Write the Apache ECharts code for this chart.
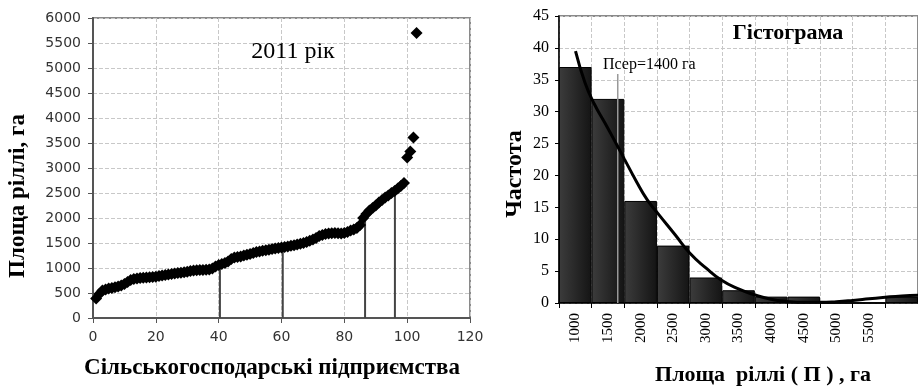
<!DOCTYPE html>
<html>
<head>
<meta charset="utf-8">
<script src="https://cdn.jsdelivr.net/npm/echarts@6/dist/echarts.min.js"></script>
<style>
  html, body { margin: 0; padding: 0; background: #fff; overflow: hidden; }
  #main { width: 918px; height: 387px; }
</style>
</head>
<body>
<div id="main"></div>
<script>
// ліва діаграма: площа ріллі підприємств (рангова)
const areaValues = [
  390, 480, 550, 570, 590, 600, 615, 630, 650, 680,
  720, 760, 780, 790, 800, 805, 810, 815, 820, 825,
  840, 850, 860, 870, 880, 890, 900, 905, 915, 925,
  940, 950, 955, 960, 960, 965, 970, 990, 1030, 1060,
  1080, 1100, 1130, 1180, 1210, 1220, 1230, 1250, 1265, 1280,
  1300, 1320, 1330, 1345, 1355, 1365, 1380, 1390, 1400, 1410,
  1420, 1430, 1445, 1455, 1470, 1485, 1500, 1520, 1545, 1570,
  1600, 1640, 1660, 1680, 1690, 1695, 1700, 1695, 1690, 1700,
  1720, 1750, 1770, 1800, 1860, 2000, 2080, 2150, 2200, 2250,
  2310, 2360, 2410, 2450, 2500, 2540, 2590, 2640, 2700, 3210,
  3330, 3610, 5700
]
// вертикальні лінії (квартилі)
const splitX = [40.4, 60.4, 86.6, 96.1]
const splitTop = [1060, 1410, 2030, 2540]

// права діаграма: гістограма
const binLabels = ["1000", "1500", "2000", "2500", "3000", "3500", "4000", "4500", "5000", "5500", "6000"]
const binCounts = [37, 32, 16, 9, 4, 2, 1, 1, 0, 0, 1]
const curveX = [753, 900, 1041, 1200, 1344, 1500, 1673, 1850, 2011, 2279, 2506, 2750, 2985, 3250, 3491, 3750, 3995, 4250, 4500, 4750, 5000, 5250, 5500, 5750, 6000]
const curveY = [39.5, 34.5, 31.2, 28.3, 25.6, 22.6, 19.3, 16.2, 14.1, 10.7, 7.8, 5.5, 3.6, 2.2, 1.3, 0.6, 0.25, 0.1, 0.1, 0.2, 0.4, 0.65, 0.9, 1.1, 1.2]
const meanValue = 1400
const meanTop = 35.9

const chart = echarts.init(document.getElementById("main"))

const grid = { type: "dashed", color: "#c8c8c8", width: 1 }
const serif = "Liberation Serif"

const splitSeries = splitX.map((x, i) => ({
  type: "line",
  xAxisIndex: 0,
  yAxisIndex: 0,
  symbol: "none",
  z: 1,
  lineStyle: { color: "#444", width: 2 },
  data: [[x, 0], [x, splitTop[i]]]
}))

const option = {
  animation: false,
  grid: [
    { left: 93, top: 18, width: 377, height: 300, show: true, borderColor: "#8a8a8a", borderWidth: 2 },
    { left: 559, top: 16, width: 363, height: 287, show: true, borderColor: "#8a8a8a", borderWidth: 2 }
  ],
  xAxis: [
    {
      type: "value",
      gridIndex: 0,
      min: 0,
      max: 120,
      interval: 20,
      axisLine: { lineStyle: { color: "#555", width: 2 } },
      axisTick: { show: true, length: 5, lineStyle: { color: "#555" } },
      axisLabel: { fontFamily: "DejaVu Sans", fontSize: 14, color: "#333", margin: 12 },
      splitLine: { show: true, lineStyle: grid }
    },
    {
      type: "category",
      gridIndex: 1,
      data: binLabels,
      boundaryGap: true,
      axisLine: { lineStyle: { color: "#000", width: 1.5 } },
      axisTick: { show: true, length: 5, lineStyle: { color: "#000" } },
      axisLabel: {
        rotate: 90,
        fontFamily: serif,
        fontSize: 15,
        color: "#000",
        margin: 10,
        interval: 0,
        formatter: (v, i) => (i === binLabels.length - 1 ? "" : v)
      },
      splitLine: { show: true, lineStyle: grid }
    },
    {
      type: "value",
      gridIndex: 1,
      min: 500,
      max: 6000,
      show: false
    }
  ],
  yAxis: [
    {
      type: "value",
      gridIndex: 0,
      min: 0,
      max: 6000,
      interval: 500,
      axisLine: { show: true, lineStyle: { color: "#555", width: 2 } },
      axisTick: { show: true, length: 5, lineStyle: { color: "#555" } },
      axisLabel: { fontFamily: "DejaVu Sans", fontSize: 14, color: "#333", margin: 12, formatter: (v) => String(v) },
      splitLine: { show: true, lineStyle: grid }
    },
    {
      type: "value",
      gridIndex: 1,
      min: 0,
      max: 45,
      interval: 5,
      axisLine: { show: true, lineStyle: { color: "#000", width: 1.5 } },
      axisTick: { show: true, length: 4, lineStyle: { color: "#000" } },
      axisLabel: { fontFamily: serif, fontSize: 16, color: "#000", margin: 10 },
      splitLine: { show: true, lineStyle: grid }
    }
  ],
  series: [
    ...splitSeries,
    {
      type: "scatter",
      xAxisIndex: 0,
      yAxisIndex: 0,
      symbol: "diamond",
      symbolSize: [12, 12],
      z: 3,
      itemStyle: { color: "#000", opacity: 1 },
      data: areaValues.map((v, i) => [i + 1, v])
    },
    {
      type: "bar",
      xAxisIndex: 1,
      yAxisIndex: 1,
      barCategoryGap: 0,
      z: 2,
      itemStyle: {
        color: new echarts.graphic.LinearGradient(0, 0, 1, 0, [
          { offset: 0, color: "#3c3c3c" },
          { offset: 1, color: "#141414" }
        ]),
        borderColor: "#000",
        borderWidth: 1
      },
      data: binCounts
    },
    {
      type: "line",
      xAxisIndex: 2,
      yAxisIndex: 1,
      symbol: "none",
      z: 4,
      lineStyle: { color: "#999", width: 1.5 },
      data: [[meanValue, 0], [meanValue, meanTop]]
    },
    {
      type: "line",
      xAxisIndex: 2,
      yAxisIndex: 1,
      smooth: true,
      symbol: "none",
      z: 5,
      lineStyle: { color: "#000", width: 3 },
      data: curveX.map((x, i) => [x, curveY[i]])
    }
  ],
  graphic: [
    {
      type: "text", x: 293, y: 52, z: 10,
      style: { text: "2011 рік", font: "24px 'Liberation Serif'", fill: "#000", align: "center", verticalAlign: "middle" }
    },
    {
      type: "text", x: 18, y: 196, rotation: Math.PI / 2, z: 10,
      style: { text: "Площа ріллі, га", font: "bold 23px 'Liberation Serif'", fill: "#000", align: "center", verticalAlign: "middle" }
    },
    {
      type: "text", x: 272, y: 368, z: 10,
      style: { text: "Сільськогосподарські підприємства", font: "bold 23px 'Liberation Serif'", fill: "#000", align: "center", verticalAlign: "middle" }
    },
    {
      type: "text", x: 788, y: 33, z: 10,
      style: { text: "Гістограма", font: "bold 22px 'Liberation Serif'", fill: "#000", align: "center", verticalAlign: "middle" }
    },
    {
      type: "text", x: 603, y: 65, z: 10,
      style: { text: "Псер=1400 га", font: "16px 'Liberation Serif'", fill: "#000", align: "left", verticalAlign: "middle" }
    },
    {
      type: "text", x: 515, y: 174, rotation: Math.PI / 2, z: 10,
      style: { text: "Частота", font: "bold 24px 'Liberation Serif'", fill: "#000", align: "center", verticalAlign: "middle" }
    },
    {
      type: "text", x: 763, y: 375, z: 10,
      style: { text: "Площа  ріллі ( П ) , га", font: "bold 22px 'Liberation Serif'", fill: "#000", align: "center", verticalAlign: "middle" }
    }
  ]
}

chart.setOption(option)
</script>
</body>
</html>
